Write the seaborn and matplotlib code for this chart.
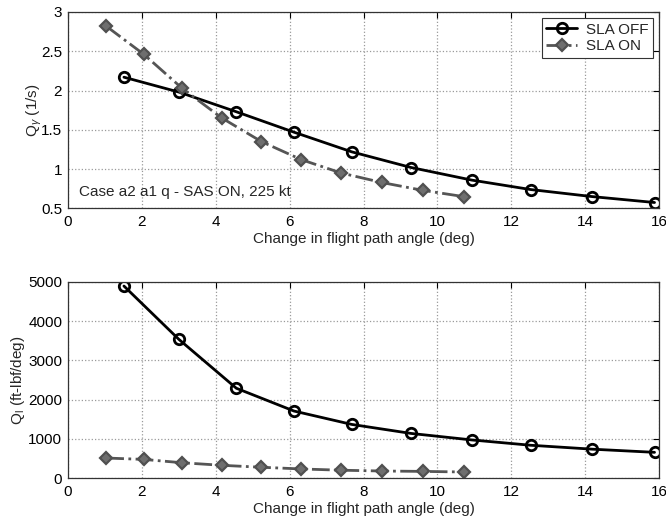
import numpy as np
import pandas as pd
import matplotlib
matplotlib.use("Agg")
import matplotlib.pyplot as plt
import seaborn as sns

# Change in flight path angle (deg)
gamma_off = [1.52, 3.01, 4.56, 6.12, 7.68, 9.29, 10.93, 12.52, 14.19, 15.87]
gamma_on = [1.04, 2.06, 3.09, 4.17, 5.24, 6.32, 7.40, 8.49, 9.60, 10.71]

# Q_gamma (1/s)
qg_off = [2.17, 1.98, 1.73, 1.47, 1.22, 1.02, 0.86, 0.74, 0.65, 0.575]
qg_on = [2.82, 2.46, 2.03, 1.65, 1.35, 1.12, 0.95, 0.83, 0.73, 0.65]

# Q_l (ft-lbf/deg)
ql_off = [4890, 3530, 2290, 1710, 1370, 1140, 975, 840, 740, 660]
ql_on = [515, 480, 395, 330, 280, 237, 205, 185, 175, 160]

series_names = ["SLA OFF", "SLA ON"]

sns.set_style("white")
plt.rcParams["font.family"] = ["Liberation Sans", "DejaVu Sans"]
plt.rcParams["mathtext.fontset"] = "custom"
plt.rcParams["mathtext.rm"] = "Liberation Sans"
plt.rcParams["mathtext.it"] = "Liberation Sans:italic"

FS = 11

fig = plt.figure(figsize=(6.66, 5.21), dpi=100)
ax1 = fig.add_axes([0.1017, 0.600, 0.8883, 0.377])
ax2 = fig.add_axes([0.1017, 0.082, 0.8883, 0.3773])

off_style = dict(color="black", linewidth=2.0, marker="o", markersize=7.5,
                 markerfacecolor="none", markeredgecolor="black",
                 markeredgewidth=2.0)
on_style = dict(color="#555555", linewidth=2.0, marker="D", markersize=6,
                markerfacecolor="#6e6e6e", markeredgecolor="#505050",
                markeredgewidth=1.6)

def draw(ax, x_off, y_off, x_on, y_on):
    df_off = pd.DataFrame({"x": x_off, "y": y_off})
    df_on = pd.DataFrame({"x": x_on, "y": y_on})
    sns.lineplot(data=df_off, x="x", y="y", ax=ax, label=series_names[0],
                 linestyle="-", **off_style)
    sns.lineplot(data=df_on, x="x", y="y", ax=ax, label=series_names[1],
                 linestyle="-.", **on_style)
    ax.set_xlim(0, 16)
    ax.set_xticks(np.arange(0, 17, 2))
    ax.grid(True, color="#9a9a9a", linestyle=":", linewidth=0.9)
    ax.tick_params(direction="in", length=4, labelsize=FS, top=True,
                   right=True, colors="black")
    ax.tick_params(axis="x", pad=5)
    ax.tick_params(axis="y", pad=4)
    for s in ax.spines.values():
        s.set_color("#333333")
        s.set_linewidth(0.9)
    ax.set_xlabel("Change in flight path angle (deg)", fontsize=FS, labelpad=2)

draw(ax1, gamma_off, qg_off, gamma_on, qg_on)
ax1.set_ylim(0.5, 3)
ax1.set_yticks([0.5, 1, 1.5, 2, 2.5, 3])
ax1.set_yticklabels(["0.5", "1", "1.5", "2", "2.5", "3"])
ax1.set_ylabel(r"Q$_\gamma$ (1/s)", fontsize=FS, labelpad=-2)
ax1.text(0.3, 0.71, "Case a2 a1 q - SAS ON, 225 kt", fontsize=FS,
         va="center", ha="left")
leg = ax1.legend(loc="upper right", fontsize=FS, frameon=True,
                 fancybox=False, edgecolor="#333333", framealpha=1,
                 handlelength=2.0, borderpad=0.3, labelspacing=0.15,
                 borderaxespad=0.4, handletextpad=0.6)
leg.get_frame().set_linewidth(0.8)

draw(ax2, gamma_off, ql_off, gamma_on, ql_on)
ax2.set_ylim(0, 5000)
ax2.set_yticks(np.arange(0, 5001, 1000))
ax2.set_ylabel(r"Q$_\mathregular{l}$ (ft-lbf/deg)", fontsize=FS, labelpad=1)
ax2.get_legend().remove()

fig.savefig("out.png", dpi=100)
